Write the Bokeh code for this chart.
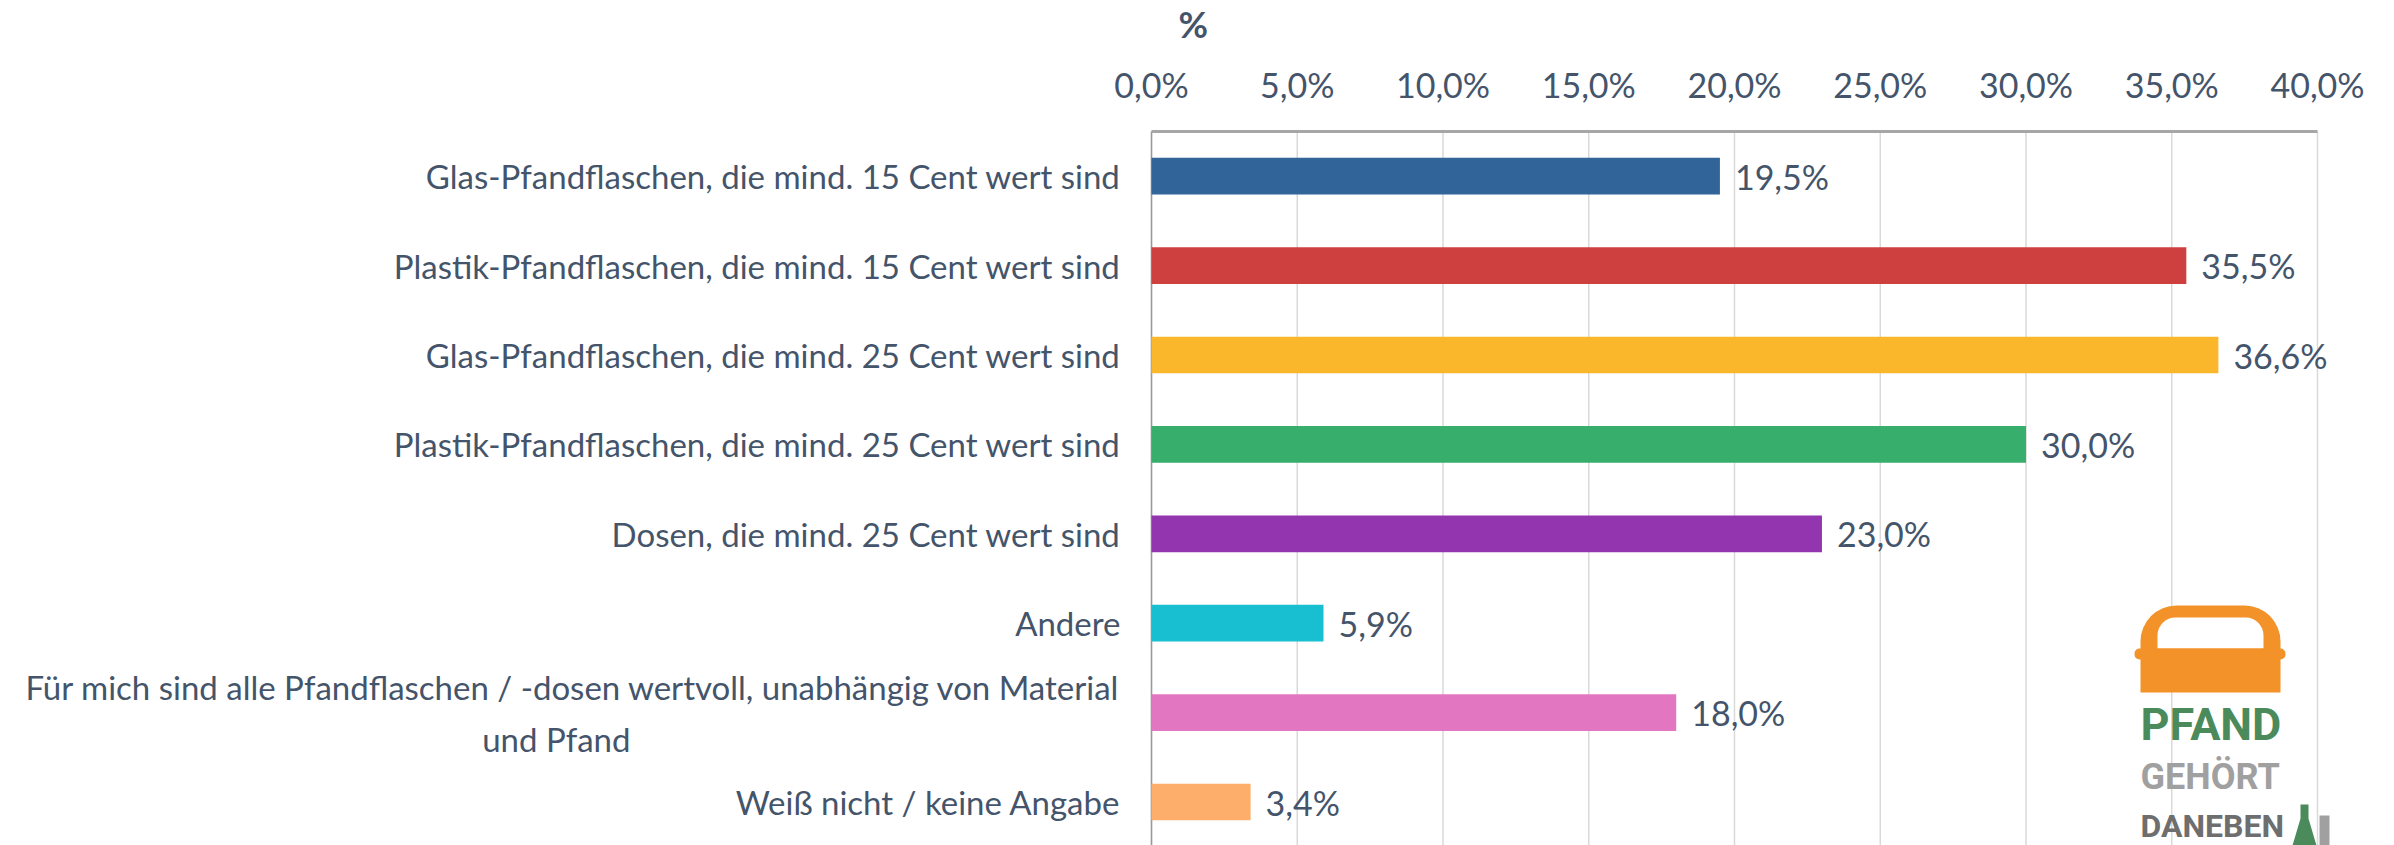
from bokeh.plotting import figure
from bokeh.models import Range1d, BoxAnnotation, ColumnDataSource
from bokeh.core.properties import value
from bokeh.embed import file_html
from bokeh.resources import INLINE

# ---------------- data ----------------
categories = [
    "Glas-Pfandflaschen, die mind. 15 Cent wert sind",
    "Plastik-Pfandflaschen, die mind. 15 Cent wert sind",
    "Glas-Pfandflaschen, die mind. 25 Cent wert sind",
    "Plastik-Pfandflaschen, die mind. 25 Cent wert sind",
    "Dosen, die mind. 25 Cent wert sind",
    "Andere",
    "Für mich sind alle Pfandflaschen / -dosen wertvoll, unabhängig von Material\nund Pfand",
    "Weiß nicht / keine Angabe",
]
values = [19.5, 35.5, 36.6, 30.0, 23.0, 5.9, 18.0, 3.4]
bar_colors = ["#31659A", "#CE3F3F", "#FBB72C", "#38AE6C",
              "#9335AF", "#18BFD0", "#E276C0", "#FDAE6B"]
x_ticks = [0, 5, 10, 15, 20, 25, 30, 35, 40]
x_tick_labels = ["0,0%", "5,0%", "10,0%", "15,0%", "20,0%",
                 "25,0%", "30,0%", "35,0%", "40,0%"]
title_text = "%"

TEXT = "#44546A"
FONT = "Lato"

n = len(categories)
ypos = [n - 1 - i for i in range(n)]
value_labels = [("%.1f%%" % v).replace(".", ",") for v in values]

# centre the second line of wrapped labels (lines are right-aligned individually)
def centred(label):
    lines = label.split("\n")
    if len(lines) == 1:
        return label
    return lines[0] + "\n" + lines[1] + "\u00a0" * 58

src = ColumnDataSource(dict(y=ypos, v=values, c=bar_colors, lbl=value_labels,
                            cat=[centred(c) for c in categories]))

# ---------------- geometry ----------------
PX_PER_UNIT = 1166 / 40.0          # pixels per percentage point
BAND = 89.4                         # pixels per category
AXIS_LEFT_PX = 1151                 # page x of the value 0
AXIS_TOP_PX = 131                   # page y of the top axis line
W, H = 2394, 845
y_axis_top = n - 0.5

def px2x(px):
    return (px - AXIS_LEFT_PX) / PX_PER_UNIT

def py2y(py):
    return y_axis_top - (py - AXIS_TOP_PX) / BAND

y_bottom = py2y(H)

p = figure(
    frame_width=W, frame_height=H,
    min_border_left=0, min_border_right=0, min_border_top=0, min_border_bottom=0,
    x_range=Range1d(px2x(0), px2x(W)), y_range=Range1d(py2y(H), py2y(0)),
    x_axis_location=None, y_axis_location=None, title_location=None,
    output_backend="svg", toolbar_location=None,
)
p.outline_line_color = None
p.background_fill_color = "white"
p.border_fill_color = "white"
p.xgrid.visible = False
p.ygrid.visible = False

# vertical grid lines at the x ticks (below the top axis line)
p.segment(x0=x_ticks, y0=[y_axis_top] * len(x_ticks), x1=x_ticks, y1=[y_bottom] * len(x_ticks),
          line_color="#D9D9D9", line_width=1.5)

# left axis line
p.segment(x0=[0], y0=[y_axis_top], x1=[0], y1=[y_bottom], line_color="#9A9A9A", line_width=1.5)

# top axis line + tick labels
p.segment(x0=[x_ticks[0]], y0=[y_axis_top], x1=[x_ticks[-1]], y1=[y_axis_top],
          line_color="#A6A6A6", line_width=3)
p.text(x=x_ticks, y=[y_axis_top] * len(x_ticks), text=x_tick_labels, y_offset=-47,
       text_align="center", text_baseline="middle",
       text_font=value(FONT), text_font_size="34px", text_color=TEXT)

# category labels
p.text(x=0, y="y", text="cat", source=src, x_offset=-31,
       text_align="right", text_baseline="middle", text_line_height=1.3,
       text_font=value(FONT), text_font_size="33px", text_color=TEXT)

# "%" title
p.text(x=[px2x(1178)], y=[py2y(23)], text=[title_text], text_align="left",
       text_baseline="middle", text_font=value(FONT), text_font_style="bold",
       text_font_size="36px", text_color=TEXT)

# bars + value labels
p.hbar(y="y", left=0, right="v", height=0.41, fill_color="c", line_color=None, source=src)
p.text(x="v", y="y", text="lbl", x_offset=15, text_baseline="middle", text_align="left",
       text_font=value(FONT), text_font_size="34px", text_color=TEXT, source=src)

# ---------------- decoration: logo (positions in page pixels) ----------------
ORANGE = "#F29228"
p.add_layout(BoxAnnotation(left=px2x(2140), right=px2x(2280), top=py2y(605), bottom=py2y(692),
                           fill_color=ORANGE, fill_alpha=1, line_color=None,
                           border_radius=(36, 36, 0, 0)))
p.add_layout(BoxAnnotation(left=px2x(2157), right=px2x(2263), top=py2y(617), bottom=py2y(648),
                           fill_color="white", fill_alpha=1, line_color=None,
                           border_radius=(18, 18, 0, 0)))
p.add_layout(BoxAnnotation(left=px2x(2134), right=px2x(2285), top=py2y(648), bottom=py2y(659),
                           fill_color=ORANGE, fill_alpha=1, line_color=None,
                           border_radius=5))
logo_words = ["PFAND", "GEHÖRT", "DANEBEN"]
logo_cols = ["#4B8B5B", "#A0A0A0", "#6E6E6E"]
logo_mid = [724, 776, 825]
logo_size = ["45px", "36px", "32px"]
for w, c, b, s in zip(logo_words, logo_cols, logo_mid, logo_size):
    p.text(x=[px2x(2140)], y=[py2y(b)], text=[w], text_font=value("Roboto"),
           text_font_style="bold", text_font_size=s, text_color=c,
           text_baseline="middle", text_align="left")
p.patch(x=[px2x(v) for v in [2300, 2308, 2308, 2316, 2292, 2300]],
        y=[py2y(v) for v in [804, 804, 818, 845, 845, 818]],
        fill_color="#4B8B5B", line_color=None)
p.patch(x=[px2x(v) for v in [2319, 2329, 2329, 2319]],
        y=[py2y(v) for v in [815, 815, 845, 845]],
        fill_color="#A0A0A0", line_color=None)

open("out.html", "w").write(file_html(p, INLINE))
